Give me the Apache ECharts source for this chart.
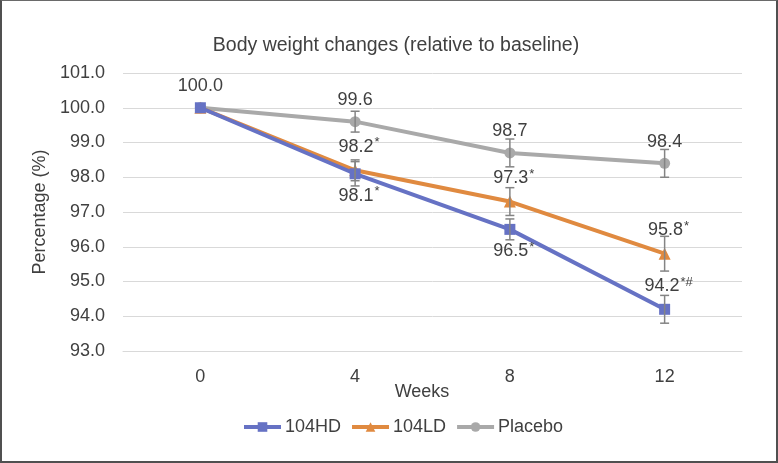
<!DOCTYPE html>
<html>
<head>
<meta charset="utf-8">
<script src="https://cdn.jsdelivr.net/npm/echarts@6/dist/echarts.min.js"></script>
<style>
html,body{margin:0;padding:0;background:#fff;}
#wrap{width:778px;height:463px;box-sizing:border-box;border:2px solid #505050;border-top:1px solid #6a6a6a;position:relative;}
#chart{position:absolute;left:-2px;top:-1px;width:778px;height:463px;}
</style>
</head>
<body>
<div id="wrap"><div id="chart"></div></div>
<script>
// ---- data ----
var weeks = ['0', '4', '8', '12'];
var yTicks = [93, 94, 95, 96, 97, 98, 99, 100, 101];
var hd = [100.0, 98.1, 96.5, 94.2];
var ld = [100.0, 98.2, 97.3, 95.8];
var placebo = [100.0, 99.6, 98.7, 98.4];
var hdErr = [0, 0.35, 0.3, 0.4];
var ldErr = [0, 0.3, 0.4, 0.5];
var placeboErr = [0, 0.3, 0.4, 0.4];
var hdMarks = ['', '*', '*', '*#'];
var ldMarks = ['', '*', '*', '*'];
var placeboMarks = ['', '', '', ''];
var hdShowLabel = [false, true, true, true];
var ldShowLabel = [false, true, true, true];
var placeboShowLabel = [true, true, true, true];
var hdLabelPos = ['bottom', 'bottom', 'bottom', 'top'];
var ldLabelPos = ['top', 'top', 'top', 'top'];
var placeboLabelPos = ['top', 'top', 'top', 'top'];

var textColor = '#404040';
var FONT = '"Liberation Sans", Arial, sans-serif';

function buildData(vals, marks, show, pos) {
  return vals.map(function (v, i) {
    return {
      value: v,
      label: {
        show: show[i],
        position: pos[i],
        distance: pos[i] === 'top' ? 7 : 6,
        formatter: v.toFixed(1) + (marks[i] ? '{sup|' + marks[i] + '}' : ''),
        offset: [marks[i] ? 4 : 0, 0]
      }
    };
  });
}

var labelStyle = {
  color: textColor, fontSize: 18, fontFamily: FONT,
  rich: { sup: { fontSize: 13, color: textColor, fontFamily: FONT, padding: [0, 0, 8, 1] } }
};

function errSeries(vals, errs) {
  return {
    type: 'custom',
    z: 5,
    silent: true,
    data: vals.map(function (v, i) { return [i, v, errs[i]]; }),
    renderItem: function (params, api) {
      var e = api.value(2);
      if (!e) return null;
      var x = api.value(0), v = api.value(1);
      var top = api.coord([x, v + e]);
      var bot = api.coord([x, v - e]);
      var w = 4.5;
      var st = { stroke: '#848484', lineWidth: 1.5 };
      return {
        type: 'group',
        children: [
          { type: 'line', shape: { x1: top[0], y1: top[1], x2: bot[0], y2: bot[1] }, style: st },
          { type: 'line', shape: { x1: top[0] - w, y1: top[1], x2: top[0] + w, y2: top[1] }, style: st },
          { type: 'line', shape: { x1: bot[0] - w, y1: bot[1], x2: bot[0] + w, y2: bot[1] }, style: st }
        ]
      };
    }
  };
}

var chart = echarts.init(document.getElementById('chart'));
chart.setOption({
  animation: false,
  textStyle: { fontFamily: FONT },
  title: [
    { text: 'Body weight changes (relative to baseline)', left: 391, top: 31, textAlign: 'center',
      textStyle: { color: textColor, fontSize: 19.5, fontWeight: 'normal', fontFamily: FONT } },
    { text: 'Weeks', left: 417, top: 378, textAlign: 'center',
      textStyle: { color: textColor, fontSize: 18, fontWeight: 'normal', fontFamily: FONT } }
  ],
  legend: {
    top: 413, left: 237,
    itemWidth: 37, itemHeight: 12, itemGap: 9,
    lineStyle: { width: 4 },
    textStyle: { color: textColor, fontSize: 18, fontFamily: FONT, padding: [0, 0, 0, -1] },
    data: ['104HD', '104LD', 'Placebo']
  },
  grid: { left: 123, right: 36, top: 73, bottom: 112 },
  xAxis: {
    type: 'category', data: weeks, boundaryGap: true,
    axisLine: { lineStyle: { color: '#d9d9d9' } },
    axisTick: { show: false },
    axisLabel: { color: textColor, fontSize: 18, margin: 17, fontFamily: FONT }
  },
  yAxis: {
    type: 'value', min: yTicks[0], max: yTicks[yTicks.length - 1], interval: 1,
    name: 'Percentage (%)', nameLocation: 'middle', nameGap: 67, nameRotate: 90,
    nameTextStyle: { color: textColor, fontSize: 18, fontFamily: FONT },
    axisLine: { show: false }, axisTick: { show: false },
    splitLine: { lineStyle: { color: '#d9d9d9', width: 1 } },
    axisLabel: { color: textColor, fontSize: 18, margin: 18, fontFamily: FONT,
      formatter: function (v) { return v.toFixed(1); } }
  },
  series: [
    {
      name: '104HD', type: 'line', z: 4,
      symbol: 'rect', symbolSize: 11,
      itemStyle: { color: '#6672c4' },
      lineStyle: { color: '#6672c4', width: 4 },
      label: labelStyle,
      data: buildData(hd, hdMarks, hdShowLabel, hdLabelPos)
    },
    {
      name: '104LD', type: 'line', z: 3,
      symbol: 'triangle', symbolSize: 12,
      itemStyle: { color: '#e08a40' },
      lineStyle: { color: '#e08a40', width: 4 },
      label: labelStyle,
      data: buildData(ld, ldMarks, ldShowLabel, ldLabelPos)
    },
    {
      name: 'Placebo', type: 'line', z: 2,
      symbol: 'circle', symbolSize: 11,
      itemStyle: { color: '#a9a9a9' },
      lineStyle: { color: '#a9a9a9', width: 4 },
      label: labelStyle,
      data: buildData(placebo, placeboMarks, placeboShowLabel, placeboLabelPos)
    },
    errSeries(hd, hdErr),
    errSeries(ld, ldErr),
    errSeries(placebo, placeboErr)
  ]
});
</script>
</body>
</html>
